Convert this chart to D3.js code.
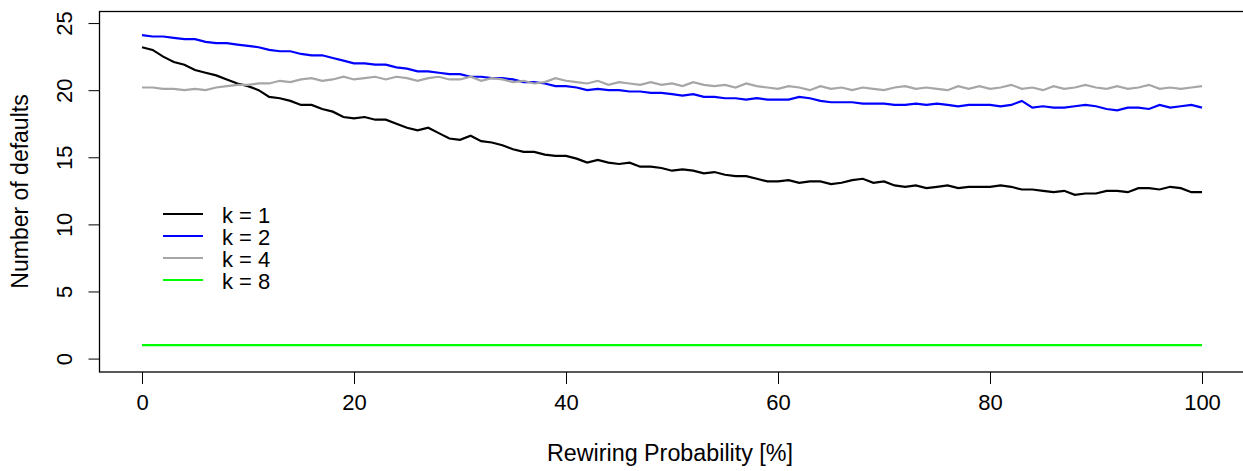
<!DOCTYPE html>
<html>
<head>
    <meta charset="utf-8">
    <title>Number of defaults vs rewiring probability</title>
    <script src="https://d3js.org/d3.v7.min.js"></script>
    <style>
        body { margin: 0; background: #fff; }
        svg { display: block; font-family: "Liberation Sans", Arial, sans-serif; }
    </style>
</head>
<body>
<svg id="chart" width="1243" height="471"></svg>

<script>
    // rewiring probability, 0..100 %
    var prob = d3.range(0, 101);

    // values, one per percent
    var k1 = [23.2, 23.0, 22.5, 22.1, 21.9, 21.5, 21.3, 21.1, 20.8, 20.5,
              20.3, 20.0, 19.5, 19.4, 19.2, 18.9, 18.9, 18.6, 18.4, 18.0,
              17.9, 18.0, 17.8, 17.8, 17.5, 17.2, 17.0, 17.2, 16.8, 16.4,
              16.3, 16.6, 16.2, 16.1, 15.9, 15.6, 15.4, 15.4, 15.2, 15.1,
              15.1, 14.9, 14.6, 14.8, 14.6, 14.5, 14.6, 14.3, 14.3, 14.2,
              14.0, 14.1, 14.0, 13.8, 13.9, 13.7, 13.6, 13.6, 13.4, 13.2,
              13.2, 13.3, 13.1, 13.2, 13.2, 13.0, 13.1, 13.3, 13.4, 13.1,
              13.2, 12.9, 12.8, 12.9, 12.7, 12.8, 12.9, 12.7, 12.8, 12.8,
              12.8, 12.9, 12.8, 12.6, 12.6, 12.5, 12.4, 12.5, 12.2, 12.3,
              12.3, 12.5, 12.5, 12.4, 12.7, 12.7, 12.6, 12.8, 12.7, 12.4,
              12.4];
    var k2 = [24.1, 24.0, 24.0, 23.9, 23.8, 23.8, 23.6, 23.5, 23.5, 23.4,
              23.3, 23.2, 23.0, 22.9, 22.9, 22.7, 22.6, 22.6, 22.4, 22.2,
              22.0, 22.0, 21.9, 21.9, 21.7, 21.6, 21.4, 21.4, 21.3, 21.2,
              21.2, 21.0, 21.0, 20.9, 20.9, 20.8, 20.6, 20.6, 20.5, 20.3,
              20.3, 20.2, 20.0, 20.1, 20.0, 20.0, 19.9, 19.9, 19.8, 19.8,
              19.7, 19.6, 19.7, 19.5, 19.5, 19.4, 19.4, 19.3, 19.4, 19.3,
              19.3, 19.3, 19.5, 19.4, 19.2, 19.1, 19.1, 19.1, 19.0, 19.0,
              19.0, 18.9, 18.9, 19.0, 18.9, 19.0, 18.9, 18.8, 18.9, 18.9,
              18.9, 18.8, 18.9, 19.2, 18.7, 18.8, 18.7, 18.7, 18.8, 18.9,
              18.8, 18.6, 18.5, 18.7, 18.7, 18.6, 18.9, 18.7, 18.8, 18.9,
              18.7];
    var k4 = [20.2, 20.2, 20.1, 20.1, 20.0, 20.1, 20.0, 20.2, 20.3, 20.4,
              20.4, 20.5, 20.5, 20.7, 20.6, 20.8, 20.9, 20.7, 20.8, 21.0,
              20.8, 20.9, 21.0, 20.8, 21.0, 20.9, 20.7, 20.9, 21.0, 20.8,
              20.8, 21.0, 20.7, 20.9, 20.8, 20.6, 20.7, 20.5, 20.6, 20.9,
              20.7, 20.6, 20.5, 20.7, 20.4, 20.6, 20.5, 20.4, 20.6, 20.4,
              20.5, 20.3, 20.6, 20.4, 20.3, 20.4, 20.2, 20.5, 20.3, 20.2,
              20.1, 20.3, 20.2, 20.0, 20.3, 20.1, 20.2, 20.0, 20.2, 20.1,
              20.0, 20.2, 20.3, 20.1, 20.2, 20.1, 20.0, 20.3, 20.1, 20.3,
              20.1, 20.2, 20.4, 20.1, 20.2, 20.0, 20.3, 20.1, 20.2, 20.4,
              20.2, 20.1, 20.3, 20.1, 20.2, 20.4, 20.1, 20.2, 20.1, 20.2,
              20.3];
    var k8 = prob.map(function() { return 1; });

    var seriesNames = ["k = 1", "k = 2", "k = 4", "k = 8"];
    var seriesColors = ["#000000", "#0000ff", "#a6a6a6", "#00ff00"];
    var seriesValues = [k1, k2, k4, k8];

    var xTicks = [0, 20, 40, 60, 80, 100];
    var yTicks = [0, 5, 10, 15, 20, 25];

    var svg = d3.select("#chart");

    // plot region like R: 4% padding on each side
    var x = d3.scaleLinear().domain([-4, 104]).range([99.6, 1244.4]);
    var y = d3.scaleLinear().domain([-1.0, 25.9]).range([372, 11]);

    var line = d3.line()
        .x(function(d, i) { return x(prob[i]); })
        .y(function(d) { return y(d); });

    // series lines
    svg.append("g")
        .selectAll("path")
        .data(seriesValues)
        .enter().append("path")
        .attr("d", line)
        .style("fill", "none")
        .style("stroke", function(d, i) { return seriesColors[i]; })
        .style("stroke-width", 2.2);

    // box
    svg.append("rect")
        .attr("x", 99.5)
        .attr("y", 11.5)
        .attr("width", 1244.4 - 99.5)
        .attr("height", 372 - 11.5)
        .style("fill", "none")
        .style("stroke", "#000")
        .style("stroke-width", 1.3);

    // x axis
    var xAxis = svg.append("g")
        .attr("transform", "translate(0,372)")
        .call(d3.axisBottom(x).tickValues(xTicks).tickSize(12).tickPadding(10));
    xAxis.select(".domain").remove();
    xAxis.selectAll("text").style("font-size", "22px").style("fill", "#000");

    // y axis, labels turned like R (las = 0)
    var yAxis = svg.append("g")
        .attr("transform", "translate(99.5,0)")
        .call(d3.axisLeft(y).tickValues(yTicks).tickSize(11).tickFormat(d3.format("d")));
    yAxis.select(".domain").remove();
    yAxis.selectAll("text")
        .attr("x", null).attr("dy", null)
        .attr("transform", "translate(-35,0) rotate(-90)")
        .attr("text-anchor", "middle")
        .attr("dominant-baseline", "central")
        .style("font-size", "22px")
        .style("fill", "#000");

    // axis titles
    svg.append("text")
        .attr("x", 670)
        .attr("y", 453)
        .attr("text-anchor", "middle")
        .attr("dominant-baseline", "central")
        .style("font-size", "23.3px")
        .text("Rewiring Probability [%]");

    svg.append("text")
        .attr("transform", "translate(20,191.5) rotate(-90)")
        .attr("text-anchor", "middle")
        .attr("dominant-baseline", "central")
        .style("font-size", "23px")
        .text("Number of defaults");

    // legend
    var legend = svg.append("g")
        .selectAll("g")
        .data(seriesNames)
        .enter().append("g")
        .attr("transform", function(d, i) { return "translate(163," + (214 + i * 22) + ")"; });

    legend.append("line")
        .attr("x1", 0).attr("x2", 40)
        .style("stroke", function(d, i) { return seriesColors[i]; })
        .style("stroke-width", 2.2);

    legend.append("text")
        .attr("x", 59)
        .attr("y", 1)
        .attr("dominant-baseline", "central")
        .style("font-size", "22px")
        .text(function(d) { return d; });
</script>
</body>
</html>
